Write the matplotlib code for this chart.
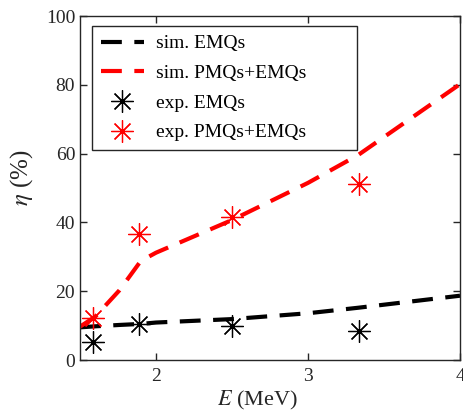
import matplotlib.pyplot as plt

plt.rcParams['font.family'] = ['Liberation Serif', 'DejaVu Serif']
plt.rcParams['mathtext.fontset'] = 'stix'

# simulation curves
E_sim = [1.5, 1.6, 1.76, 1.9, 2.0, 2.5, 3.0, 3.33, 4.0]
sim_emq = [9.5, 9.8, 10.2, 10.5, 10.9, 11.9, 13.6, 15.2, 18.7]
sim_pmq = [9.7, 12.6, 20.3, 28.8, 31.2, 40.7, 51.5, 59.6, 80.2]

# experiment points
E_exp = [1.585, 1.89, 2.5, 3.335]
exp_emq = [5.2, 10.6, 9.9, 8.4]
exp_pmq = [12.3, 36.6, 41.6, 51.3]

fig = plt.figure(figsize=(4.64, 4.11), dpi=100)
ax = fig.add_axes([0.1724, 0.124, 0.819, 0.837])

ax.plot(E_sim, sim_emq, color='black', linestyle=(0, (5, 3)), linewidth=3,
        label='sim. EMQs')
ax.plot(E_sim, sim_pmq, color='red', linestyle=(0, (5, 3)), linewidth=3,
        label='sim. PMQs+EMQs')
ax.plot(E_exp, exp_emq, linestyle='none', marker=(8, 2, 0), markersize=16,
        markeredgewidth=0.9, color='black', label='exp. EMQs')
ax.plot(E_exp, exp_pmq, linestyle='none', marker=(8, 2, 0), markersize=16,
        markeredgewidth=0.9, color='red', label='exp. PMQs+EMQs')

ax.set_xlim(1.5, 4)
ax.set_ylim(0, 100)
ax.set_xticks([2, 3, 4])
ax.set_yticks([0, 20, 40, 60, 80, 100])

dark = '#262626'
ax.tick_params(direction='in', top=True, right=True, labelsize=14,
               colors=dark, length=5, width=1)
ax.tick_params(axis='x', pad=6)
for s in ax.spines.values():
    s.set_color(dark)
    s.set_linewidth(1)

ax.set_xlabel(r'$E$ (MeV)', fontsize=16, color=dark)
ax.set_ylabel(r'$\eta$ (%)', fontsize=18, color=dark)
ax.xaxis.set_label_coords(0.466, -0.085)
ax.yaxis.set_label_coords(-0.118, 0.53)

leg = ax.legend(loc='upper left', fontsize=14, fancybox=False, framealpha=1,
                edgecolor=dark, handlelength=2.2, handletextpad=0.65,
                borderpad=0.45, borderaxespad=0, labelspacing=0.62,
                mode='expand', bbox_to_anchor=(0.0316, 0.5, 0.697, 0.471))
leg.get_frame().set_linewidth(1)

plt.savefig('out.png', dpi=100)
